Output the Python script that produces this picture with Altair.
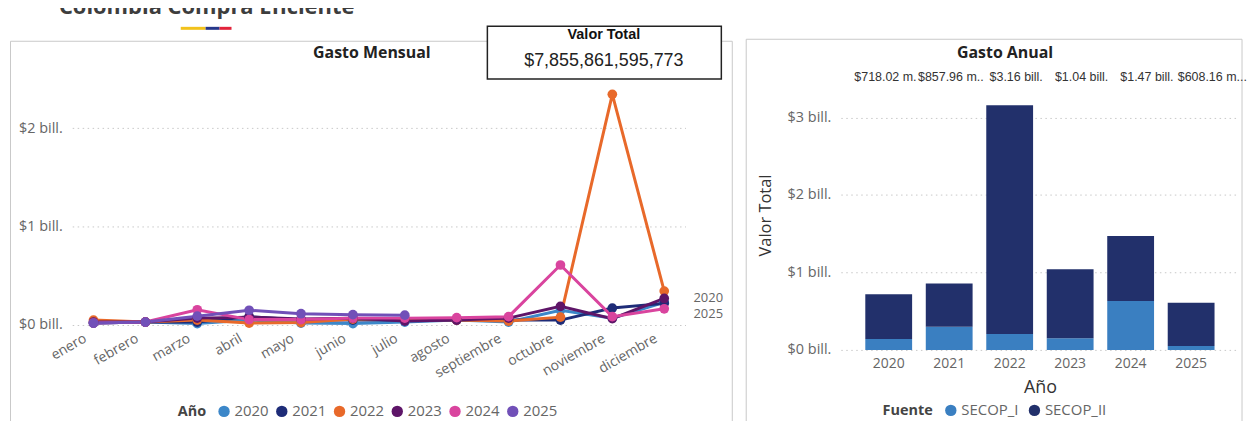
import altair as alt
import pandas as pd

# ---------------- data ----------------
months = ["enero", "febrero", "marzo", "abril", "mayo", "junio", "julio",
          "agosto", "septiembre", "octubre", "noviembre", "diciembre"]
years = ["2020", "2021", "2022", "2023", "2024", "2025"]
year_colors = ["#3C87C9", "#1E2C78", "#E8692A", "#5E1568", "#D9449E", "#7150B8"]

# monthly spend, in billones (10^12 COP)
v2020 = [0.02, 0.03, 0.015, 0.05, 0.02, 0.015, 0.03, 0.05, 0.03, 0.15, 0.07, 0.23]
v2021 = [0.02, 0.03, 0.03, 0.085, 0.05, 0.05, 0.05, 0.05, 0.05, 0.05, 0.172, 0.22]
v2022 = [0.05, 0.03, 0.05, 0.02, 0.025, 0.06, 0.06, 0.05, 0.04, 0.08, 2.345, 0.345]
v2023 = [0.03, 0.03, 0.07, 0.08, 0.06, 0.07, 0.04, 0.05, 0.07, 0.19, 0.065, 0.27]
v2024 = [0.02, 0.03, 0.155, 0.055, 0.055, 0.07, 0.07, 0.075, 0.085, 0.61, 0.085, 0.165]
v2025 = [0.02, 0.03, 0.09, 0.15, 0.115, 0.105, 0.10]

end_labels = ["2020", "2025"]
end_label_vals = [0.276, 0.114]

# annual spend by source
fuentes = ["SECOP_I", "SECOP_II"]
fuente_colors = ["#3A7FC1", "#22306B"]
secop_i = [0.14, 0.30, 0.205, 0.15, 0.63, 0.05]
secop_ii = [0.578, 0.558, 2.955, 0.89, 0.84, 0.558]
total_labels = ["$718.02 m.", "$857.96 m..", "$3.16 bill.", "$1.04 bill.",
                "$1.47 bill.", "$608.16 m..."]
valor_total = "$7,855,861,595,773"
header = "Colombia Compra Eficiente"

# ---------------- styles ----------------
FONT = "Open Sans"
NUMFONT = "Liberation Sans"
GRID = "#c8c8c8"
BORDER = "#c9c9c9"
LABEL = "#666666"

series = [v2020, v2021, v2022, v2023, v2024, v2025]
rows = []
for y, vals in zip(years, series):
    for m, v in zip(months, vals):
        rows.append({"Mes": m, "Año": y, "Serie": y, "Valor": v})
line_df = pd.DataFrame(rows)
end_df = pd.DataFrame({"lab": end_labels, "Valor": end_label_vals})
one = pd.DataFrame({"k": [0]})


def rule(x1, x2, y1, y2, color, w=1):
    enc = dict(x=alt.value(x1), y=alt.value(y1))
    if x2 != x1:
        enc["x2"] = alt.value(x2)
    if y2 != y1:
        enc["y2"] = alt.value(y2)
    return alt.Chart(one).mark_rule(color=color, strokeWidth=w).encode(**enc)


def label(txt, x, y, size, weight="normal", color="#222", font=FONT, align="center"):
    return alt.Chart(one).mark_text(
        text=txt, fontSize=size, fontWeight=weight, color=color, font=font,
        align=align, baseline="middle"
    ).encode(x=alt.value(x), y=alt.value(y))


def legend(title, lx, ly, colpad):
    return alt.Legend(orient="none", legendX=lx, legendY=ly, direction="horizontal",
                      titleOrient="left", title=title, titleFont=FONT,
                      titleFontSize=14.5, titleFontWeight="bold", titleColor="#444",
                      titleBaseline="middle", titlePadding=10,
                      labelFont=FONT, labelFontSize=15, labelColor=LABEL,
                      symbolType="circle", symbolSize=130, symbolStrokeWidth=0,
                      columnPadding=colpad, labelOffset=3, padding=0)


# ---------------- left: Gasto Mensual ----------------
LW, LH = 616, 246
x_mes = alt.X("Mes:N", sort=months,
              scale=alt.Scale(type="point", padding=0.41),
              axis=alt.Axis(title=None, labelAngle=330, labelAlign="right",
                            labelBaseline="top", labelFont=FONT, labelFontSize=14,
                            labelColor=LABEL, labelPadding=6, labelOffset=-12,
                            domain=False, ticks=False, grid=False))
y_val = alt.Y("Valor:Q", scale=alt.Scale(domain=[0, 2.49], nice=False),
              axis=alt.Axis(title=None, values=[0, 1, 2],
                            labelExpr="'$' + datum.value + ' bill.'",
                            labelFont=FONT, labelFontSize=14.5, labelColor=LABEL,
                            labelPadding=10, grid=True, gridColor=GRID,
                            gridDash=[1.5, 3.5], domain=False, ticks=False))
year_scale = alt.Scale(domain=years, range=year_colors)

lines = alt.Chart(line_df).mark_line(strokeWidth=3).encode(
    x=x_mes, y=y_val, stroke=alt.Stroke("Serie:N", scale=year_scale, legend=None))
points = alt.Chart(line_df).mark_circle(size=95, opacity=1).encode(
    x=x_mes, y=y_val,
    fill=alt.Fill("Año:N", scale=year_scale, legend=legend("Año", 106, 325, 5)))
ends = alt.Chart(end_df).mark_text(font=FONT, fontSize=13, color=LABEL, align="left",
                                   baseline="middle").encode(
    x=alt.value(LW + 8), y=alt.Y("Valor:Q"), text="lab:N")

left = alt.layer(
    rule(-62, -50, -95, -95, "white"),
    rule(-62, 663, -39, -39, BORDER),
    rule(-62, -62, -39, 346, BORDER),
    rule(663, 663, -39, 346, BORDER),
    label(header, 135, -73, 22, "bold", "#3d3d3d"),
    rule(109, 134, -52, -52, "#F2C21B", 3),
    rule(134, 148, -52, -52, "#26378A", 3),
    rule(148, 160, -52, -52, "#E2233B", 3),
    label("Gasto Mensual", 301, -27, 16, "bold", "#222"),
    lines, points, ends,
    alt.Chart(one).mark_rect(fill="white", stroke="#222", strokeWidth=1.5).encode(
        x=alt.value(417), x2=alt.value(652), y=alt.value(-54), y2=alt.value(-1)),
    label("Valor Total", 534, -45, 14.5, "bold", "#111", NUMFONT),
    label(valor_total, 534, -19, 18, "normal", "#222", NUMFONT),
).resolve_scale(fill="independent", stroke="independent").properties(width=LW, height=LH)

# ---------------- right: Gasto Anual ----------------
RW, RH = 400, 271
bar_df = pd.DataFrame({
    "Año": years * 2,
    "Fuente": [fuentes[0]] * len(years) + [fuentes[1]] * len(years),
    "Valor": secop_i + secop_ii,
})
lab_df = pd.DataFrame({"Año": years, "Etiqueta": total_labels})

x_year = alt.X("Año:N", sort=years,
               scale=alt.Scale(paddingInner=0.226, paddingOuter=0.405),
               axis=alt.Axis(title="Año", labelAngle=0, labelFont=FONT, labelFontSize=14,
                             labelColor=LABEL, labelPadding=7, titleFont=FONT,
                             titleFontSize=18, titleFontWeight="normal",
                             titleColor="#333", titlePadding=8, domain=False,
                             ticks=False, grid=False))
bars = alt.Chart(bar_df).mark_bar().encode(
    x=x_year,
    y=alt.Y("Valor:Q", stack="zero",
            scale=alt.Scale(domain=[0, RH / 77.8], nice=False),
            axis=alt.Axis(title="Valor Total", values=[0, 1, 2, 3],
                          labelExpr="'$' + datum.value + ' bill.'",
                          labelFont=FONT, labelFontSize=14.5, labelColor=LABEL,
                          labelPadding=10, titleFont=FONT, titleFontSize=16.5,
                          titleFontWeight="normal", titleColor="#333",
                          titlePadding=14, grid=True, gridColor=GRID,
                          gridDash=[1.5, 3.5], domain=False, ticks=False)),
    color=alt.Color("Fuente:N", scale=alt.Scale(domain=fuentes, range=fuente_colors),
                    legend=legend("Fuente", 42, 324, 8)),
    order=alt.Order("Fuente:N", sort="ascending"),
)
tot_text = alt.Chart(lab_df).mark_text(font=NUMFONT, fontSize=12.5, color="#333",
                                       baseline="middle").encode(
    x=alt.X("Año:N", sort=years,
            scale=alt.Scale(range=[12, 406], paddingInner=0, paddingOuter=0),
            axis=None),
    y=alt.value(-3), text="Etiqueta:N")

right = alt.layer(
    rule(-95, -80, -95, -95, "white"),
    rule(-95, 403, -41, -41, BORDER),
    rule(-95, -95, -41, 346, BORDER),
    rule(403, 403, -41, 346, BORDER),
    label("Gasto Anual", 165, -27, 16, "bold", "#222"),
    bars, tot_text,
).resolve_scale(x="independent").properties(width=RW, height=RH)

chart = alt.hconcat(left, right, spacing=12).resolve_scale(
    color="independent", fill="independent", stroke="independent"
).resolve_legend(
    color="independent", fill="independent", stroke="independent"
).properties(
    padding={"left": 1.5, "top": -24.5, "right": 0, "bottom": -5.5},
    background="white",
).configure_view(stroke=None)

chart.save("out.html", embed_options={"renderer": "svg", "actions": False})
